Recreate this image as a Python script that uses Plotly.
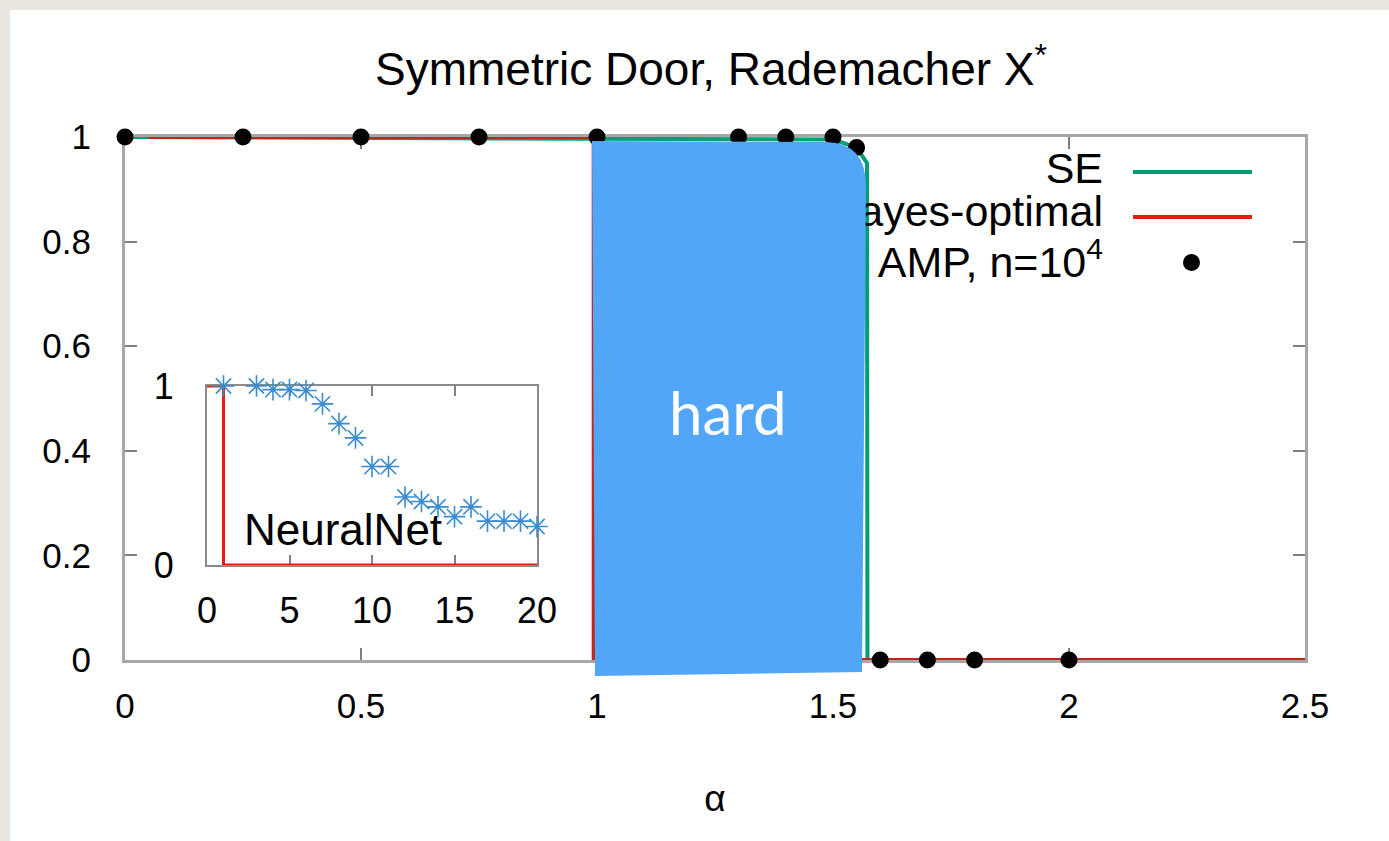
import plotly.graph_objects as go

W, H = 1389, 841
FONT = "Liberation Sans, Arial, sans-serif"

# ---- data ----
se_alpha = [0.0, 1.50, 1.55, 1.572, 1.573, 2.5]
se_overlap = [1.0, 0.995, 0.98, 0.95, 0.0, 0.0]

bayes_alpha = [0.05, 0.993, 0.993, 2.5]
bayes_overlap = [1.0, 1.0, 0.0, 0.0]

amp_alpha = [0.0, 0.25, 0.5, 0.75, 1.0, 1.3, 1.4, 1.5, 1.55, 1.6, 1.7, 1.8, 2.0]
amp_overlap = [1.0, 1.0, 1.0, 1.0, 1.0, 1.0, 1.0, 1.0, 0.98, 0.0, 0.0, 0.0, 0.0]

nn_alpha = [1, 3, 4, 5, 6, 7, 8, 9, 10, 11, 12, 13, 14, 15, 16, 17, 18, 19, 20]
nn_overlap = [1.0, 1.0, 0.98, 0.98, 0.975, 0.9, 0.79, 0.71, 0.55, 0.55,
              0.38, 0.355, 0.325, 0.27, 0.325, 0.245, 0.245, 0.245, 0.215]

nn_bayes_alpha = [0, 1, 1, 20]
nn_bayes_overlap = [1, 1, 0, 0]

main_xticks = [0, 0.5, 1, 1.5, 2, 2.5]
main_xticklabels = ["0", "0.5", "1", "1.5", "2", "2.5"]
main_yticks = [0, 0.2, 0.4, 0.6, 0.8, 1]
main_yticklabels = ["0", "0.2", "0.4", "0.6", "0.8", "1"]
inset_xticks = [0, 5, 10, 15, 20]
inset_yticks = [0, 1]

legend_labels = ["SE", "Bayes-optimal", "AMP, n=10<sup>4</sup>"]

GREEN = "#009e73"
RED_LINE = "#c0261a"
RED = "#e51e10"
STAR = "#3a8cd0"
BLUE = "#52a6f7"

fig = go.Figure()

# main plot
fig.add_trace(go.Scatter(x=se_alpha, y=se_overlap, mode="lines",
                         line=dict(color=GREEN, width=4), cliponaxis=False,
                         xaxis="x", yaxis="y", showlegend=False))
fig.add_trace(go.Scatter(x=bayes_alpha, y=bayes_overlap, mode="lines",
                         line=dict(color=RED_LINE, width=4), cliponaxis=False,
                         xaxis="x", yaxis="y", showlegend=False))
fig.add_trace(go.Scatter(x=amp_alpha, y=amp_overlap, mode="markers",
                         marker=dict(color="black", size=17), cliponaxis=False,
                         xaxis="x", yaxis="y", showlegend=False))

# inset
fig.add_trace(go.Scatter(x=nn_bayes_alpha, y=nn_bayes_overlap, mode="lines",
                         line=dict(color=RED, width=3), cliponaxis=False,
                         xaxis="x2", yaxis="y2", showlegend=False))
fig.add_trace(go.Scatter(x=nn_alpha, y=nn_overlap, mode="markers",
                         marker=dict(symbol="asterisk-open", size=18, color=STAR,
                                     line=dict(color=STAR, width=1.6)),
                         cliponaxis=False,
                         xaxis="x2", yaxis="y2", showlegend=False))

# legend texts on a pixel overlay axis (so the blue shape covers them)
leg_y = [172, 215, 266]
fig.add_trace(go.Scatter(x=[1103] * 3, y=leg_y, mode="text", text=legend_labels,
                         textposition="middle left",
                         textfont=dict(family=FONT, size=43, color="black"),
                         cliponaxis=False, xaxis="x3", yaxis="y3", showlegend=False))

def px_x(p):
    return p / W

def px_y(p):
    return 1 - p / H

axis_common = dict(showgrid=False, zeroline=False, showline=True, mirror="allticks",
                   linecolor="#a8a8a8", linewidth=3, ticks="inside", ticklen=12,
                   tickwidth=2, tickcolor="#808080", layer="below traces",
                   automargin=False,
                   tickfont=dict(family=FONT, size=35, color="black"), fixedrange=True)

inset_common = dict(showgrid=False, zeroline=False, showline=True, mirror="allticks",
                    linecolor="#8a8a8a", linewidth=2, ticks="inside", ticklen=10,
                    tickwidth=2, tickcolor="#808080", layer="below traces",
                    automargin=False,
                    tickfont=dict(family=FONT, size=36, color="black"), fixedrange=True)

fig.update_layout(
    width=W, height=H, autosize=False,
    margin=dict(l=0, r=0, t=0, b=0, pad=0, autoexpand=False),
    paper_bgcolor="#e9e6df", plot_bgcolor="rgba(0,0,0,0)",
    showlegend=False,
    xaxis=dict(domain=[px_x(125), px_x(1305)], range=[0, 2.5], anchor="y",
               tickvals=main_xticks, ticktext=main_xticklabels,
               ticklabelstandoff=13,
               title=dict(text="α", font=dict(family=FONT, size=37, color="black"),
                          standoff=62),
               **axis_common),
    yaxis=dict(domain=[px_y(660), px_y(137)], range=[0, 1], anchor="x",
               tickvals=main_yticks, ticktext=main_yticklabels,
               ticklabelstandoff=24, **axis_common),
    xaxis2=dict(domain=[px_x(207), px_x(537)], range=[0, 20], anchor="y2",
                tickvals=inset_xticks, ticklabelstandoff=13, **inset_common),
    yaxis2=dict(domain=[px_y(565), px_y(386)], range=[0, 1], anchor="x2",
                tickvals=inset_yticks, ticklabelstandoff=24, **inset_common),
    xaxis3=dict(domain=[0, 1], range=[0, W], visible=False, anchor="y3", fixedrange=True),
    yaxis3=dict(domain=[0, 1], range=[H, 0], visible=False, anchor="x3", fixedrange=True),
)

shapes = [
    # white slide panel
    dict(type="rect", xref="paper", yref="paper", x0=10 / W, x1=1, y0=0, y1=1 - 10 / H,
         fillcolor="white", line=dict(width=0), layer="below"),
    # legend samples
    dict(type="line", xref="x3", yref="y3", x0=1133, x1=1252, y0=172, y1=172,
         line=dict(color=GREEN, width=4), layer="above"),
    dict(type="line", xref="x3", yref="y3", x0=1133, x1=1252, y0=217, y1=217,
         line=dict(color=RED, width=4), layer="above"),
    dict(type="circle", xref="x3", yref="y3", x0=1183, x1=1200, y0=254, y1=271,
         fillcolor="black", line=dict(width=0), layer="above"),
    # blue "hard" overlay
    dict(type="path", xref="x3", yref="y3",
         path="M 592 141 L 826 142 Q 866 143 866 186 L 862 672 L 595 676 Z",
         fillcolor=BLUE, line=dict(width=0), layer="above"),
]
fig.update_layout(shapes=shapes)

fig.add_annotation(text="Symmetric Door, Rademacher X<sup>*</sup>", xref="paper", yref="paper",
                   x=px_x(711), y=px_y(66), xanchor="center", yanchor="middle",
                   showarrow=False, font=dict(family=FONT, size=46, color="black"))
fig.add_annotation(text="NeuralNet", xref="x2", yref="y2", x=2.1, y=0.2,
                   xanchor="left", yanchor="middle", showarrow=False,
                   font=dict(family=FONT, size=44, color="black"))
fig.add_annotation(text="hard", xref="x3", yref="y3", x=728, y=412,
                   xanchor="center", yanchor="middle", showarrow=False,
                   font=dict(family="Lato, Open Sans, sans-serif", size=60, color="white"))

post = ("document.documentElement.style.margin='0';"
        "document.documentElement.style.overflow='hidden';"
        "document.body.style.margin='0';"
        "document.body.style.padding='0';"
        "document.body.style.overflow='hidden';")

fig.write_html("out.html", config={"responsive": False, "displayModeBar": False},
               post_script=post)
